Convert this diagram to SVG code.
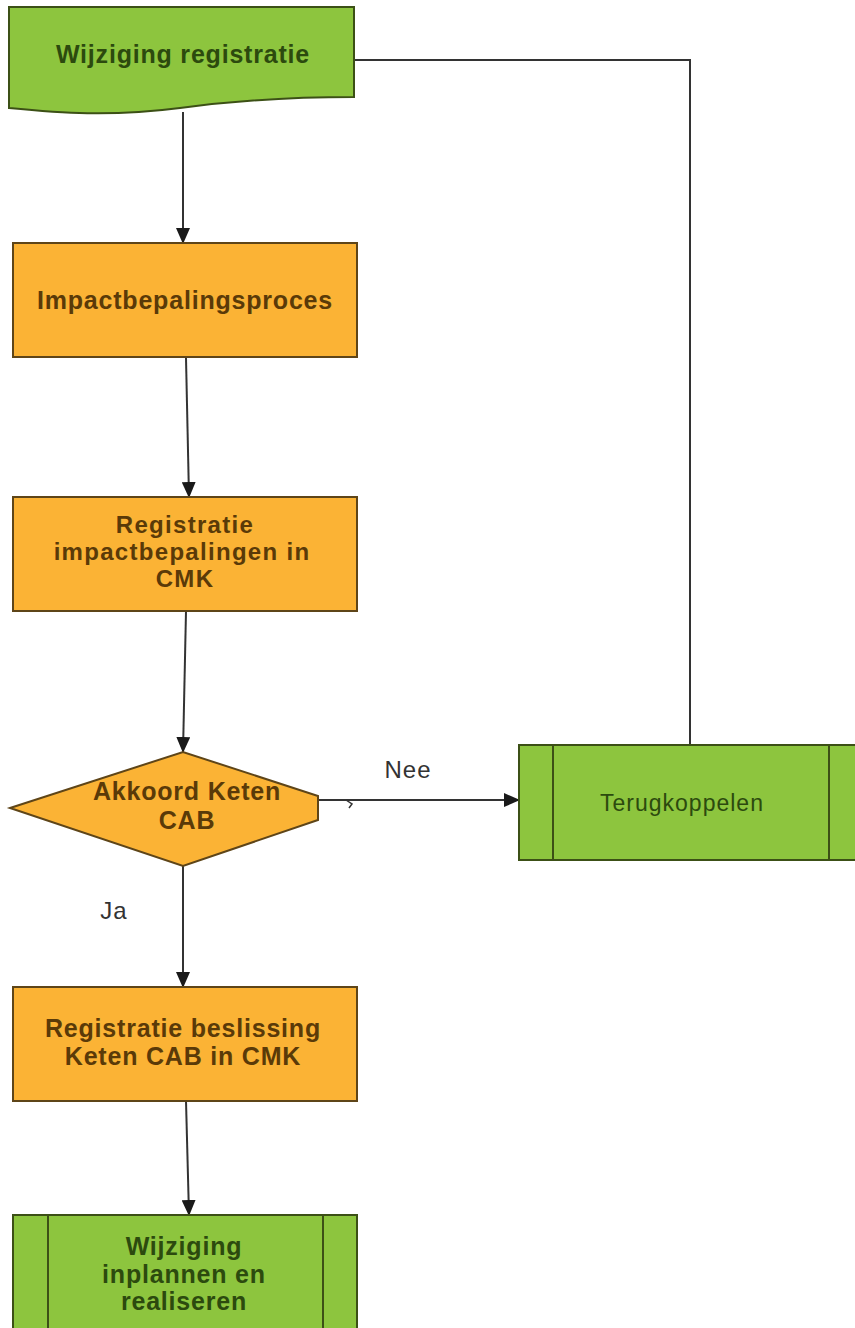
<svg xmlns="http://www.w3.org/2000/svg" width="855" height="1328" viewBox="0 0 855 1328">
<defs>
<marker id="ah" markerWidth="16" markerHeight="14" refX="15" refY="7" orient="auto" markerUnits="userSpaceOnUse">
<path d="M0,0 L16,7 L0,14 Z" fill="#1a1a1a"/>
</marker>
<style>
.g{fill:#8dc53e;stroke:#3c5016;stroke-width:2}
.o{fill:#fbb335;stroke:#5e4518;stroke-width:2}
.gt{font-family:"Liberation Sans",Arial,sans-serif;font-weight:bold;font-size:25px;letter-spacing:0.8px;fill:#2c4a0e;text-anchor:middle}
.ot{font-family:"Liberation Sans",Arial,sans-serif;font-weight:bold;font-size:25px;letter-spacing:0.8px;fill:#5a3a08;text-anchor:middle}
.sm{font-size:24px;letter-spacing:1.3px}
.lb{font-family:"Liberation Sans",Arial,sans-serif;font-size:24px;letter-spacing:1px;fill:#333;text-anchor:middle}
.c{fill:none;stroke:#333;stroke-width:2}
</style>
</defs>
<rect width="855" height="1328" fill="#fff"/>
<g id="connectors">
<path class="c" d="M183,112 V243" marker-end="url(#ah)"/>
<path class="c" d="M186,358 L189,497" marker-end="url(#ah)"/>
<path class="c" d="M186,611 L183,752" marker-end="url(#ah)"/>
<path class="c" d="M183,866 V987" marker-end="url(#ah)"/>
<path class="c" d="M186,1101 L189,1215" marker-end="url(#ah)"/>
<path class="c" d="M318,800 H519" marker-end="url(#ah)"/>
<path class="c" d="M354,60 H690 V745"/>
<path d="M346,800 L352,804 L349,808" fill="none" stroke="#333" stroke-width="1.5"/>
<text class="lb" x="408" y="778">Nee</text>
<text class="lb" x="114" y="919">Ja</text>
</g>
<g id="wijziging-registratie">
<path class="g" d="M9,7 H354 V97 C290,97 240,100 180,108 C110,117 60,113 9,108 Z"/>
<text class="gt" x="183" y="63">Wijziging registratie</text>
</g>
<g id="impactbepalingsproces">
<rect class="o" x="13" y="243" width="344" height="114"/>
<text class="ot" x="185" y="309">Impactbepalingsproces</text>
</g>
<g id="registratie-impactbepalingen">
<rect class="o" x="13" y="497" width="344" height="114"/>
<text class="ot sm" x="185" y="533">Registratie</text>
<text class="ot sm" x="182" y="560">impactbepalingen in</text>
<text class="ot sm" x="185" y="587">CMK</text>
</g>
<g id="akkoord-keten-cab">
<polygon class="o" points="10,808 183,752 318,796 318,820 183,866"/>
<text class="ot" x="187" y="800">Akkoord Keten</text>
<text class="ot" x="187" y="829">CAB</text>
</g>
<g id="terugkoppelen">
<rect class="g" x="519" y="745" width="345" height="115"/>
<line x1="553" y1="745" x2="553" y2="860" stroke="#3c5016" stroke-width="2"/>
<line x1="829" y1="745" x2="829" y2="860" stroke="#3c5016" stroke-width="2"/>
<text class="gt" x="682" y="811" style="font-weight:normal;font-size:23px;letter-spacing:1px">Terugkoppelen</text>
</g>
<g id="registratie-beslissing">
<rect class="o" x="13" y="987" width="344" height="114"/>
<text class="ot" x="183" y="1037">Registratie beslissing</text>
<text class="ot" x="183" y="1065">Keten CAB in CMK</text>
</g>
<g id="wijziging-inplannen">
<rect class="g" x="13" y="1215" width="344" height="125"/>
<line x1="48" y1="1215" x2="48" y2="1328" stroke="#3c5016" stroke-width="2"/>
<line x1="323" y1="1215" x2="323" y2="1328" stroke="#3c5016" stroke-width="2"/>
<text class="gt" x="184" y="1255">Wijziging</text>
<text class="gt" x="184" y="1283">inplannen en</text>
<text class="gt" x="184" y="1310">realiseren</text>
</g>
</svg>
